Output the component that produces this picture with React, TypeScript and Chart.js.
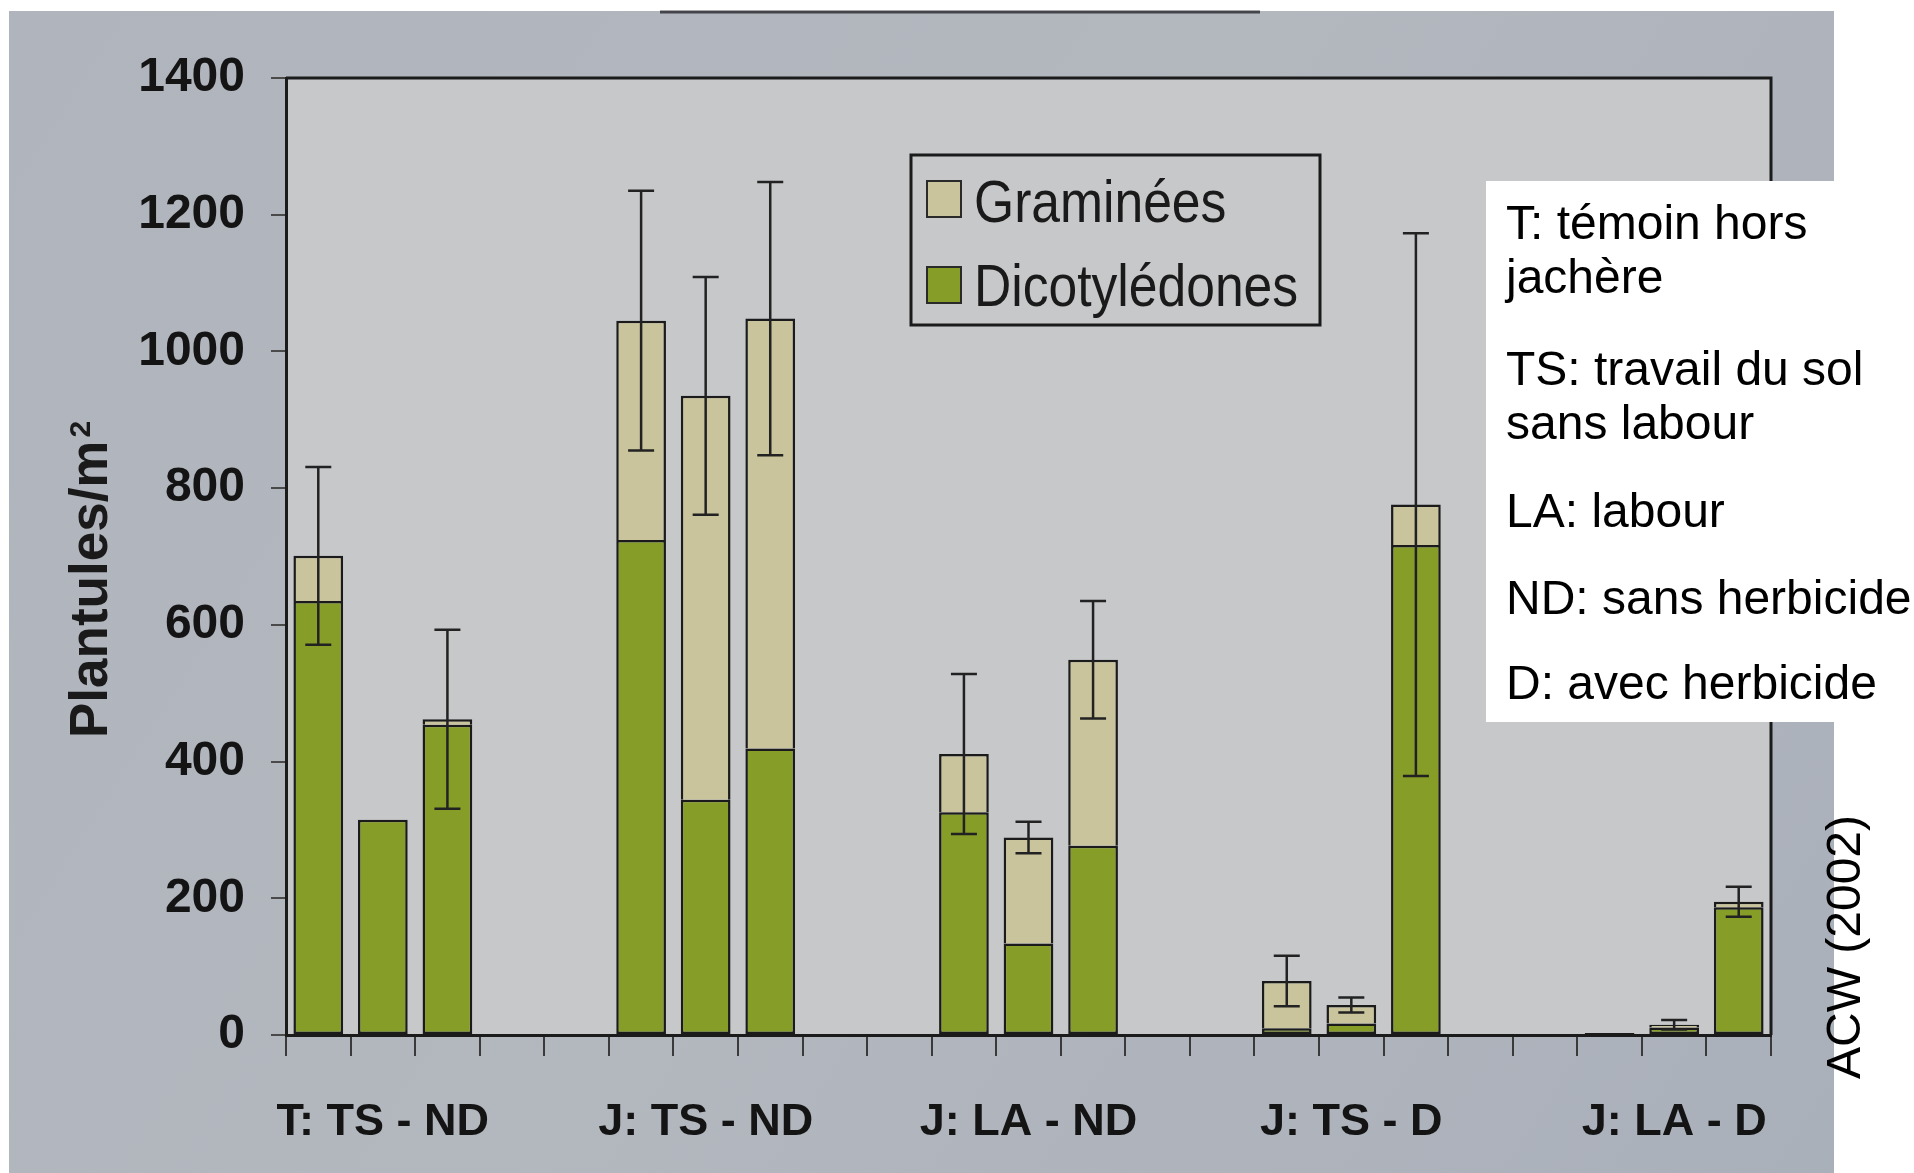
import React, { useEffect, useRef } from 'react';
import { Chart, registerables } from 'chart.js';

Chart.register(...registerables);

// ---- data ----
const groupLabels = ['T: TS - ND', 'J: TS - ND', 'J: LA - ND', 'J: TS - D', 'J: LA - D'];
const dicotValues = [635, 315, 454, 724, 344, 419, 326, 134, 277, 10, 17, 717, 3, 11, 187];
const gramValues = [66, 0, 8, 321, 591, 629, 85, 155, 272, 69, 27, 59, 0, 4, 8];
const errorValues = [130, 0, 131, 190, 174, 200, 117, 23, 86, 37, 11, 397, 0, 7, 22];
const yTickValues = [0, 200, 400, 600, 800, 1000, 1200, 1400];
const legendLabels = ['Graminées', 'Dicotylédones'];
const yTitleText = 'Plantules/m';
const yTitleSup = '2';
const noteLines = [
  'T: témoin hors',
  'jachère',
  'TS: travail du sol',
  'sans labour',
  'LA: labour',
  'ND: sans herbicide',
  'D: avec herbicide',
];
const sourceText = 'ACW (2002)';

const BARS_PER_GROUP = 3;
const GAP_SLOTS = 2;

function spread<T>(vals: T[]): (T | null)[] {
  const out: (T | null)[] = [];
  groupLabels.forEach((_, g) => {
    if (g > 0) for (let k = 0; k < GAP_SLOTS; k++) out.push(null);
    for (let b = 0; b < BARS_PER_GROUP; b++) out.push(vals[g * BARS_PER_GROUP + b]);
  });
  return out;
}

function slotLabels(): string[] {
  const out: string[] = [];
  groupLabels.forEach((lab, g) => {
    if (g > 0) for (let k = 0; k < GAP_SLOTS; k++) out.push('');
    for (let b = 0; b < BARS_PER_GROUP; b++) out.push(b === 1 ? lab : '');
  });
  return out;
}

const FONT = "'Liberation Sans', Arial, Helvetica, sans-serif";
const GREEN = '#869d27';
const BEIGE = '#c9c49b';
const INK = '#1b1b1b';

const W = 1914;
const H = 1173;

const backgroundPlugin = {
  id: 'photoBackground',
  beforeDraw(chart: any) {
    const { ctx, chartArea } = chart;
    ctx.save();
    ctx.fillStyle = '#ffffff';
    ctx.fillRect(0, 0, W, H);
    // photographed slide
    const g = ctx.createLinearGradient(0, 0, 1834, 1173);
    g.addColorStop(0, '#b0b5bd');
    g.addColorStop(0.5, '#b3b7be');
    g.addColorStop(1, '#aab0ba');
    ctx.fillStyle = g;
    ctx.fillRect(9, 11, 1834 - 9, H - 11);
    // dark edge line at the top of the slide
    ctx.strokeStyle = 'rgba(40,40,45,0.8)';
    ctx.lineWidth = 3;
    ctx.beginPath();
    ctx.moveTo(660, 12);
    ctx.lineTo(1260, 12);
    ctx.stroke();
    // plot area
    ctx.fillStyle = '#c7c8ca';
    ctx.fillRect(chartArea.left, chartArea.top, chartArea.right - chartArea.left, chartArea.bottom - chartArea.top);
    ctx.restore();
  },
};

const overlayPlugin = {
  id: 'overlay',
  afterDatasetsDraw(chart: any) {
    const { ctx, chartArea, scales } = chart;
    const y = scales.y;
    // frame (top and right)
    ctx.save();
    ctx.strokeStyle = INK;
    ctx.lineWidth = 3;
    ctx.beginPath();
    ctx.moveTo(chartArea.left, chartArea.top);
    ctx.lineTo(chartArea.right, chartArea.top);
    ctx.lineTo(chartArea.right, chartArea.bottom);
    ctx.stroke();

    // error bars
    const totals = dicotValues.map((d, i) => d + gramValues[i]);
    const errs = spread(errorValues);
    const tots = spread(totals);
    const meta = chart.getDatasetMeta(1);
    ctx.strokeStyle = '#222222';
    ctx.lineWidth = 2.5;
    meta.data.forEach((el: any, i: number) => {
      const e = errs[i];
      const t = tots[i];
      if (e == null || t == null || e <= 0) return;
      const x = el.x;
      const yTop = y.getPixelForValue(t + e);
      const yBot = y.getPixelForValue(t - e);
      const cap = 13;
      ctx.beginPath();
      ctx.moveTo(x, yTop);
      ctx.lineTo(x, yBot);
      ctx.moveTo(x - cap, yTop);
      ctx.lineTo(x + cap, yTop);
      ctx.moveTo(x - cap, yBot);
      ctx.lineTo(x + cap, yBot);
      ctx.stroke();
    });
    ctx.restore();
  },
  afterDraw(chart: any) {
    const { ctx } = chart;
    ctx.save();

    // legend box
    ctx.strokeStyle = INK;
    ctx.lineWidth = 3;
    ctx.strokeRect(911, 155, 409, 170);
    const colors = [BEIGE, GREEN];
    const sqTops = [181, 267];
    const textMid = [201, 285];
    legendLabels.forEach((lab, i) => {
      ctx.fillStyle = colors[i];
      ctx.fillRect(927, sqTops[i], 34, 36);
      ctx.strokeStyle = '#2a2a2a';
      ctx.lineWidth = 2;
      ctx.strokeRect(927, sqTops[i], 34, 36);
      ctx.save();
      ctx.translate(974, textMid[i] + 21);
      ctx.scale(0.86, 1);
      ctx.fillStyle = '#1a1a1a';
      ctx.font = `60px ${FONT}`;
      ctx.textBaseline = 'alphabetic';
      ctx.textAlign = 'left';
      ctx.fillText(lab, 0, 0);
      ctx.restore();
    });

    // y axis title (rotated)
    ctx.save();
    ctx.translate(107, 738);
    ctx.rotate(-Math.PI / 2);
    ctx.fillStyle = '#1a1a1a';
    ctx.font = `bold 53px ${FONT}`;
    ctx.textAlign = 'left';
    ctx.textBaseline = 'alphabetic';
    ctx.fillText(yTitleText, 0, 0);
    const wMain = ctx.measureText(yTitleText).width;
    ctx.font = `bold 30px ${FONT}`;
    ctx.fillText(yTitleSup, wMain + 3, -17);
    ctx.restore();

    // white note box
    ctx.fillStyle = '#ffffff';
    ctx.fillRect(1486, 181, W - 1486, 722 - 181);
    ctx.fillStyle = '#000000';
    ctx.font = `48px ${FONT}`;
    ctx.textAlign = 'left';
    ctx.textBaseline = 'alphabetic';
    const baselines = [239, 293, 385, 439, 527, 614, 699];
    noteLines.forEach((ln, i) => ctx.fillText(ln, 1506, baselines[i]));

    // source, rotated
    ctx.save();
    ctx.translate(1847, 947);
    ctx.rotate(-Math.PI / 2);
    ctx.textAlign = 'center';
    ctx.textBaseline = 'middle';
    ctx.fillStyle = '#000000';
    ctx.font = `48px ${FONT}`;
    ctx.fillText(sourceText, 0, 0);
    ctx.restore();

    ctx.restore();
  },
};

export default function App() {
  const ref = useRef<HTMLCanvasElement | null>(null);

  useEffect(() => {
    if (!ref.current) return;
    const chart = new Chart(ref.current, {
      type: 'bar',
      data: {
        labels: slotLabels(),
        datasets: [
          {
            label: legendLabels[1],
            data: spread(dicotValues),
            backgroundColor: GREEN,
            borderColor: INK,
            borderWidth: 2.5,
            borderSkipped: false,
            stack: 's',
          },
          {
            label: legendLabels[0],
            data: spread(gramValues),
            backgroundColor: BEIGE,
            borderColor: INK,
            borderWidth: 2.5,
            borderSkipped: 'bottom',
            stack: 's',
          },
        ],
      } as any,
      options: {
        responsive: false,
        animation: false,
        devicePixelRatio: 1,
        layout: { padding: { left: 0, top: 78, right: 143, bottom: 0 } },
        datasets: { bar: { barPercentage: 0.77, categoryPercentage: 1 } },
        plugins: { legend: { display: false }, tooltip: { enabled: false }, title: { display: false } },
        scales: {
          x: {
            stacked: true,
            offset: true,
            grid: {
              offset: true,
              drawOnChartArea: false,
              drawTicks: true,
              tickLength: 21,
              color: '#3a3a3a',
              lineWidth: 2,
            },
            border: { display: true, color: INK, width: 3 },
            ticks: {
              autoSkip: false,
              maxRotation: 0,
              minRotation: 0,
              padding: 40,
              color: '#141414',
              font: { family: FONT, size: 45, weight: 'bold' },
            },
            afterFit: (s: any) => {
              s.height = H - 1035;
            },
          },
          y: {
            stacked: true,
            min: yTickValues[0],
            max: yTickValues[yTickValues.length - 1],
            afterBuildTicks: (s: any) => {
              s.ticks = yTickValues.map((v) => ({ value: v }));
            },
            ticks: {
              padding: 26,
              color: '#141414',
              font: { family: FONT, size: 48, weight: 'bold' },
              callback: (v: any) => String(v),
            },
            grid: {
              drawOnChartArea: false,
              drawTicks: true,
              tickLength: 15,
              color: '#4a4a4a',
              lineWidth: 2,
            },
            border: { display: true, color: INK, width: 3 },
            afterFit: (s: any) => {
              s.width = 286;
            },
          },
        },
      } as any,
      plugins: [backgroundPlugin, overlayPlugin],
    });
    return () => chart.destroy();
  }, []);

  return (
    <div style={{ position: 'absolute', left: 0, top: 0, width: W, height: H, overflow: 'hidden' }}>
      <canvas ref={ref} width={W} height={H} style={{ display: 'block', width: W, height: H }} />
    </div>
  );
}
